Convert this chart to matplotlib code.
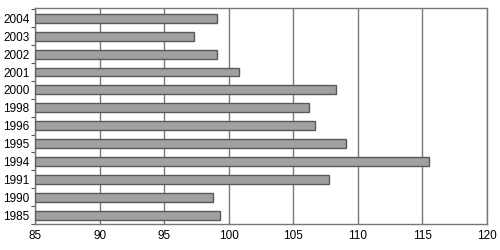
import numpy as np
import matplotlib
matplotlib.use('Agg')
import matplotlib.pyplot as plt

years = ['1985', '1990', '1991', '1994', '1995', '1996', '1998', '2000', '2001', '2002', '2003', '2004']
values = [99.3, 98.8, 107.8, 115.5, 109.1, 106.7, 106.2, 108.3, 100.8, 99.1, 97.3, 99.1]
xticks = [85, 90, 95, 100, 105, 110, 115, 120]

plt.rcParams['font.family'] = ['Liberation Sans Narrow', 'Liberation Sans', 'DejaVu Sans']

fig = plt.figure(figsize=(5, 2.5), dpi=100)
ax = fig.add_axes([0.07, 0.104, 0.904, 0.864])

y = np.arange(len(years))
ax.barh(y, np.array(values) - 85, left=85, height=0.5, color='#a0a0a0',
        edgecolor='#5a5a5a', linewidth=1.0, zorder=3)

ax.set_xlim(85, 120)
ax.set_ylim(-0.5, len(years) - 0.42)
ax.set_xticks(xticks)
ax.set_xticklabels([str(t) for t in xticks], fontsize=8.5)
ax.set_yticks(y)
ax.set_yticklabels(years, fontsize=8.5)
ax.set_yticks(np.arange(-0.5, len(years), 1.0), minor=True)
ax.tick_params(axis='y', which='major', length=0, pad=4)
ax.tick_params(axis='y', which='minor', length=3, width=0.8, color='#555555', direction='out')
ax.tick_params(axis='x', length=0, pad=4)
ax.grid(axis='x', color='#777777', linewidth=1.0, zorder=0)
for s in ax.spines.values():
    s.set_color('#777777')
    s.set_linewidth(1.0)

fig.savefig('out.png', dpi=100)
